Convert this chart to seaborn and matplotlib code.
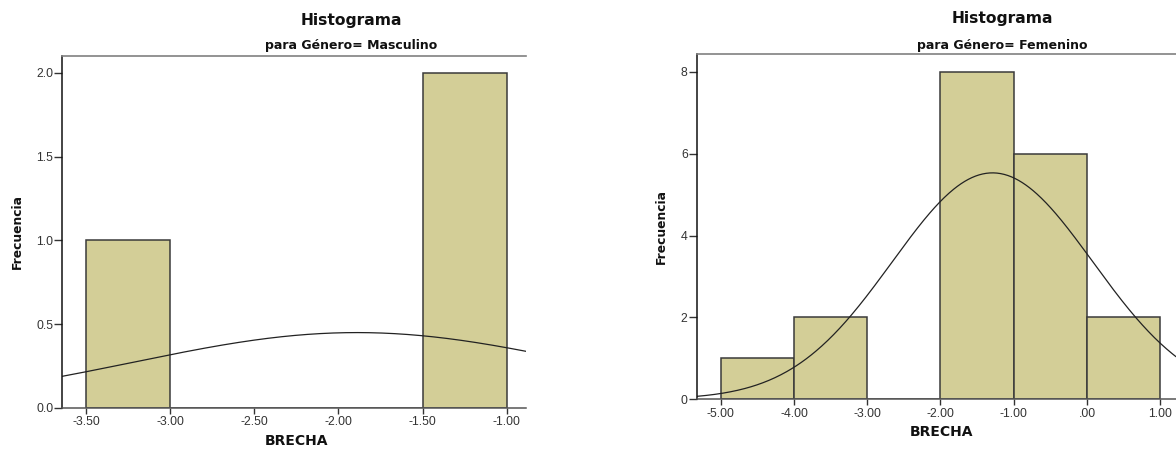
import numpy as np
import pandas as pd
import matplotlib
matplotlib.use("Agg")
import matplotlib.pyplot as plt
import seaborn as sns

# ---------------- data ----------------
masc_edges = [-3.5, -3.0, -2.5, -2.0, -1.5, -1.0]
masc_counts = [1, 0, 0, 0, 2]
masc_mean = -1.89
masc_sd = 1.33
masc_xticks = [-3.5, -3.0, -2.5, -2.0, -1.5, -1.0]
masc_xlabels = ["-3.50", "-3.00", "-2.50", "-2.00", "-1.50", "-1.00"]
masc_yticks = [0.0, 0.5, 1.0, 1.5, 2.0]
masc_ylabels = ["0.0", "0.5", "1.0", "1.5", "2.0"]

fem_edges = [-5.0, -4.0, -3.0, -2.0, -1.0, 0.0, 1.0]
fem_counts = [1, 2, 0, 8, 6, 2]
fem_mean = -1.29
fem_sd = 1.37
fem_xticks = [-5.0, -4.0, -3.0, -2.0, -1.0, 0.0, 1.0]
fem_xlabels = ["-5.00", "-4.00", "-3.00", "-2.00", "-1.00", ".00", "1.00"]
fem_yticks = [0, 2, 4, 6, 8]
fem_ylabels = ["0", "2", "4", "6", "8"]

title = "Histograma"
sub_masc = "para Género= Masculino"
sub_fem = "para Género= Femenino"
xlab = "BRECHA"
ylab = "Frecuencia"

# ---------------- style ----------------
sns.set_theme(style="white")
plt.rcParams["font.family"] = ["Liberation Sans", "DejaVu Sans"]

BAR = "#D3CE97"
EDGE = "#3a3a3a"

fig = plt.figure(figsize=(11.76, 4.5), dpi=100)
W, H = 1176, 450


def px_axes(l, t, r, b):
    return fig.add_axes([l / W, 1 - b / H, (r - l) / W, (b - t) / H])


def draw(ax, edges, counts, mean, sd, xlim, ylim, xt, xl, yt, yl, ylab_x, xlab_dx):
    e = np.asarray(edges, float)
    centers = (e[:-1] + e[1:]) / 2
    df = pd.DataFrame({"x": centers, "w": np.asarray(counts, float)})
    sns.histplot(data=df, x="x", weights="w", bins=list(edges), ax=ax,
                 color=BAR, edgecolor=EDGE, linewidth=1.1, alpha=1.0)
    # normal curve scaled to counts
    n = float(np.sum(counts))
    bw = e[1] - e[0]
    xs = np.linspace(xlim[0], xlim[1], 400)
    ys = n * bw / (sd * np.sqrt(2 * np.pi)) * np.exp(-0.5 * ((xs - mean) / sd) ** 2)
    sns.lineplot(x=xs, y=ys, ax=ax, color="#222222", linewidth=0.9)
    ax.set_xlim(*xlim)
    ax.set_ylim(*ylim)
    ax.set_xticks(xt)
    ax.set_xticklabels(xl)
    ax.set_yticks(yt)
    ax.set_yticklabels(yl)
    ax.tick_params(axis="x", direction="out", length=4, width=1.0, pad=2,
                   labelsize=8.8, colors="#333333", bottom=True)
    ax.tick_params(axis="y", direction="out", length=5.5, width=1.0, pad=1,
                   labelsize=8.8, colors="#333333", left=True)
    ax.spines["right"].set_visible(False)
    ax.spines["top"].set_color("#808080")
    ax.spines["top"].set_linewidth(1.2)
    ax.spines["left"].set_color("#111111")
    ax.spines["left"].set_linewidth(1.1)
    ax.spines["bottom"].set_color("#555555")
    ax.spines["bottom"].set_linewidth(1.1)
    ax.grid(False)
    ax.set_xlabel(xlab, fontsize=10, fontweight="bold", family="DejaVu Sans", color="#111111")
    ax.set_ylabel(ylab, fontsize=8.8, fontweight="bold", family="DejaVu Sans", color="#111111")
    ax.xaxis.set_label_coords(0.5 + xlab_dx, -0.095)
    ax.xaxis.label.set_va("center")
    ax.yaxis.set_label_coords(ylab_x, 0.5)
    ax.yaxis.label.set_va("center")
    ax.set_facecolor("white")


ax1 = px_axes(62.3, 56, 526, 408)
draw(ax1, masc_edges, masc_counts, masc_mean, masc_sd,
     (-3.641, -0.885), (0, 2.10), masc_xticks, masc_xlabels,
     masc_yticks, masc_ylabels, -0.0966, 0.006)

ax2 = px_axes(696.7, 54.3, 1176, 399.3)
draw(ax2, fem_edges, fem_counts, fem_mean, fem_sd,
     (-5.327, 1.214), (0, 8.43), fem_xticks, fem_xlabels,
     fem_yticks, fem_ylabels, -0.0745, 0.01)

# titles (SPSS style, centred on the original chart area)
fig.text(351 / W, 1 - 20 / H, title, ha="center", va="center",
         fontsize=11.2, fontweight="bold", family="DejaVu Sans", color="#111111")
fig.text(351 / W, 1 - 46 / H, sub_masc, ha="center", va="center",
         fontsize=9, fontweight="bold", family="DejaVu Sans", color="#111111")
fig.text(1002 / W, 1 - 19 / H, title, ha="center", va="center",
         fontsize=11.2, fontweight="bold", family="DejaVu Sans", color="#111111")
fig.text(1002 / W, 1 - 45 / H, sub_fem, ha="center", va="center",
         fontsize=9, fontweight="bold", family="DejaVu Sans", color="#111111")

fig.savefig("out.png", dpi=100, facecolor="white")
